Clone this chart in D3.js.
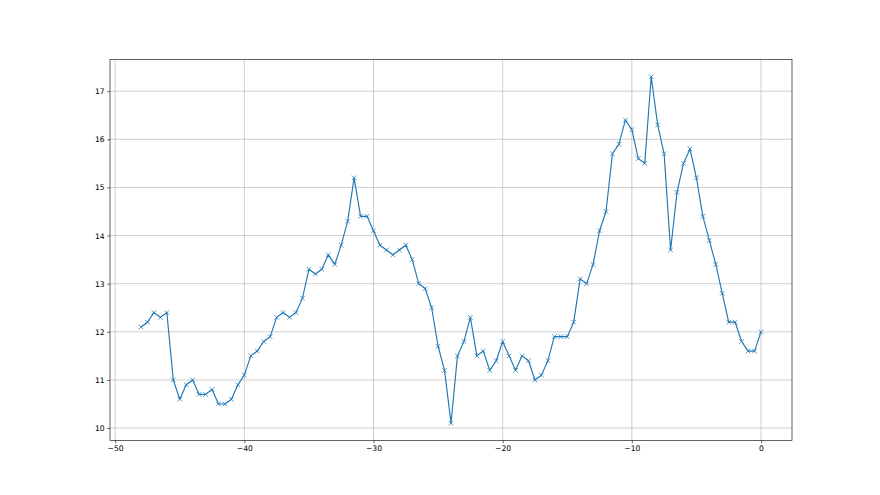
<!DOCTYPE html>
<html>
<head>
<meta charset="utf-8">
<script src="https://cdn.jsdelivr.net/npm/d3@7"></script>
<style>
  html, body { margin: 0; padding: 0; background: #fff; }
  svg { display: block; }
  text { font-family: "DejaVu Sans", sans-serif; }
</style>
</head>
<body>
<div id="chart"></div>
<script>
// ---- data ----
const xStart = -48, xStep = 0.5;
const values = [
  12.1, 12.2, 12.4, 12.3, 12.4, 11.0, 10.6, 10.9, 11.0, 10.7,
  10.7, 10.8, 10.5, 10.5, 10.6, 10.9, 11.1, 11.5, 11.6, 11.8,
  11.9, 12.3, 12.4, 12.3, 12.4, 12.7, 13.3, 13.2, 13.3, 13.6,
  13.4, 13.8, 14.3, 15.2, 14.4, 14.4, 14.1, 13.8, 13.7, 13.6,
  13.7, 13.8, 13.5, 13.0, 12.9, 12.5, 11.7, 11.2, 10.1, 11.5,
  11.8, 12.3, 11.5, 11.6, 11.2, 11.4, 11.8, 11.5, 11.2, 11.5,
  11.4, 11.0, 11.1, 11.4, 11.9, 11.9, 11.9, 12.2, 13.1, 13.0,
  13.4, 14.1, 14.5, 15.7, 15.9, 16.4, 16.2, 15.6, 15.5, 17.3,
  16.3, 15.7, 13.7, 14.9, 15.5, 15.8, 15.2, 14.4, 13.9, 13.4,
  12.8, 12.2, 12.2, 11.8, 11.6, 11.6, 12.0
];
const xs = values.map((v, i) => xStart + i * xStep);
const xTicks = [-50, -40, -30, -20, -10, 0];
const yTicks = [10, 11, 12, 13, 14, 15, 16, 17];

// ---- layout ----
const W = 880, H = 495;
const pLeft = 110, pRight = 792, pTop = 59.4, pBottom = 440.6;
const s = 55 / 72; // pt -> px

const svg = d3.select("#chart").append("svg").attr("width", W).attr("height", H);

const xMin = d3.min(xs), xMax = d3.max(xs);
const yMin = d3.min(values), yMax = d3.max(values);
const xPad = (xMax - xMin) * 0.05, yPad = (yMax - yMin) * 0.05;

const x = d3.scaleLinear().domain([xMin - xPad, xMax + xPad]).range([pLeft, pRight]);
const y = d3.scaleLinear().domain([yMin - yPad, yMax + yPad]).range([pBottom, pTop]);

// grid
const grid = svg.append("g");
grid.selectAll("line.gx").data(xTicks).join("line").attr("class", "gx")
  .attr("x1", d => x(d)).attr("x2", d => x(d))
  .attr("y1", pTop).attr("y2", pBottom)
  .attr("stroke", "#b0b0b0").attr("stroke-width", 0.8 * s);
grid.selectAll("line.gy").data(yTicks).join("line").attr("class", "gy")
  .attr("x1", pLeft).attr("x2", pRight)
  .attr("y1", d => y(d)).attr("y2", d => y(d))
  .attr("stroke", "#b0b0b0").attr("stroke-width", 0.8 * s);

// line
const color = "#1f77b4";
const pts = xs.map((xv, i) => [xv, values[i]]);
svg.append("path")
  .datum(pts)
  .attr("fill", "none")
  .attr("stroke", color)
  .attr("stroke-width", 1.5 * s)
  .attr("stroke-linejoin", "round")
  .attr("d", d3.line().x(d => x(d[0])).y(d => y(d[1])));

// x markers
const m = 6 * s / 2;
const mk = svg.append("g").attr("stroke", color).attr("stroke-width", 1 * s);
mk.selectAll("path").data(pts).join("path")
  .attr("d", d => {
    const cx = x(d[0]), cy = y(d[1]);
    return `M${cx - m},${cy - m}L${cx + m},${cy + m}M${cx - m},${cy + m}L${cx + m},${cy - m}`;
  });

// axes
const fontPx = 10 * s;
const xAxis = d3.axisBottom(x).tickValues(xTicks).tickSize(3.5 * s).tickPadding(3.5 * s)
  .tickFormat(d => d < 0 ? "\u2212" + Math.abs(d) : String(d));
const yAxis = d3.axisLeft(y).tickValues(yTicks).tickSize(3.5 * s).tickPadding(3.5 * s);

const gx = svg.append("g").attr("transform", `translate(0,${pBottom})`).call(xAxis);
const gy = svg.append("g").attr("transform", `translate(${pLeft},0)`).call(yAxis);
[gx, gy].forEach(g => {
  g.select(".domain").remove();
  g.selectAll(".tick line").attr("stroke", "#000").attr("stroke-width", 0.8 * s);
  g.selectAll(".tick text").attr("fill", "#000").style("font-size", fontPx + "px")
    .style("font-family", "'DejaVu Sans', sans-serif");
});

// spines
svg.append("rect")
  .attr("x", pLeft).attr("y", pTop).attr("width", pRight - pLeft).attr("height", pBottom - pTop)
  .attr("fill", "none").attr("stroke", "#000").attr("stroke-width", 0.8 * s);
</script>
</body>
</html>
